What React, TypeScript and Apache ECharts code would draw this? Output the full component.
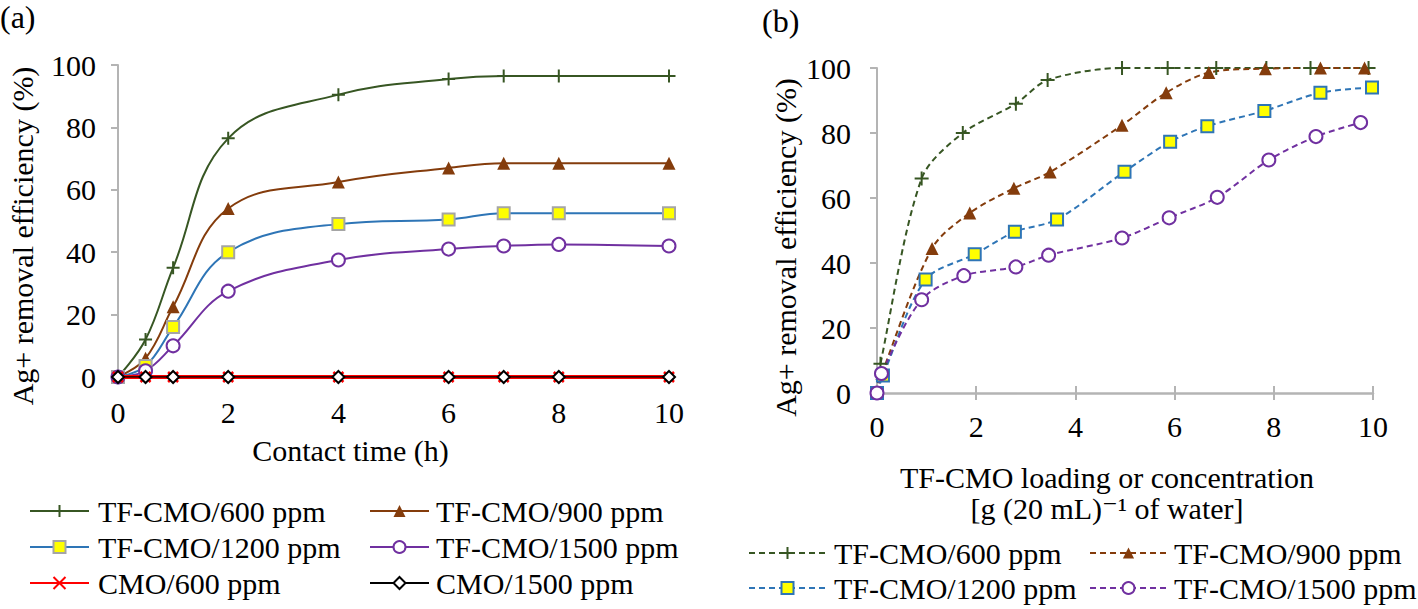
import React, { useEffect, useRef } from "react";
import * as echarts from "echarts";

const FONT = "'Liberation Serif', 'Times New Roman', Times, 'DejaVu Serif', serif";

// ---------- Panel (a): removal efficiency vs contact time ----------
const contactTimeH = [0, 0.5, 1, 2, 4, 6, 7, 8, 10];
const aTf600 = [0, 12, 35, 76.5, 90.5, 95.5, 96.5, 96.5, 96.5];
const aTf900 = [0, 6, 22.5, 54, 62.5, 67, 68.5, 68.5, 68.5];
const aTf1200 = [0, 3.5, 16, 40, 49, 50.5, 52.5, 52.5, 52.5];
const aTf1500 = [0, 2, 10, 27.5, 37.5, 41, 42, 42.5, 42];
const aCmo600 = [0, 0, 0, 0, 0, 0, 0, 0, 0];
const aCmo1500 = [0, 0, 0, 0, 0, 0, 0, 0, 0];

// ---------- Panel (b): removal efficiency vs TF-CMO loading ----------
const bTf600X = [0, 0.07, 0.9, 1.73, 2.8, 3.44, 4.94, 5.86, 6.84, 7.85, 8.74, 9.91];
const bTf600Y = [0, 9, 66, 80, 89, 96.3, 100, 100, 100, 100, 100, 100];
const bTf900X = [0, 0.1, 1.11, 1.87, 2.76, 3.49, 4.94, 5.83, 6.69, 7.83, 8.94, 9.83];
const bTf900Y = [0, 6, 44.5, 55.4, 63, 68, 82.4, 92.4, 98.6, 99.8, 100, 100];
const bTf1200X = [0, 0.12, 0.98, 1.97, 2.78, 3.63, 4.99, 5.91, 6.66, 7.81, 8.94, 9.98];
const bTf1200Y = [0, 5.4, 34.9, 42.7, 49.6, 53.4, 68.1, 77.3, 82.1, 86.8, 92.4, 94];
const bTf1500X = [0, 0.09, 0.9, 1.75, 2.8, 3.46, 4.94, 5.89, 6.86, 7.9, 8.85, 9.75];
const bTf1500Y = [0, 6, 28.7, 36.1, 38.8, 42.4, 47.7, 53.9, 60.2, 71.7, 78.9, 83.2];

const names = {
  tf600: "TF-CMO/600 ppm",
  tf900: "TF-CMO/900 ppm",
  tf1200: "TF-CMO/1200 ppm",
  tf1500: "TF-CMO/1500 ppm",
  cmo600: "CMO/600 ppm",
  cmo1500: "CMO/1500 ppm",
};

const GREEN = "#375623";
const BROWN = "#843C0C";
const BLUE = "#2E75B6";
const PURPLE = "#7030A0";
const RED = "#FF0000";
const GRAY = "#B4B4B4";
const PLUS = "path://M5,0L5,10M0,5L10,5";
const CROSS = "path://M0,0L10,10M0,10L10,0";
const DASH = [6, 4];

const zip = (xs: number[], ys: number[]) => xs.map((x, i) => [x, ys[i]]);

const textBase = { fontFamily: FONT, fontSize: 30, color: "#000" };

function legendItem(
  name: string,
  left: number,
  centerY: number,
  itemWidth: number,
  itemHeight: number,
  textPad: number,
  override?: any
) {
  return {
    show: true,
    left,
    top: centerY - 15,
    padding: 0,
    orient: "horizontal",
    itemWidth,
    itemHeight,
    selectedMode: false,
    data: [override ? { name, ...override } : name],
    textStyle: { ...textBase, lineHeight: 30, padding: [0, 0, 0, textPad] },
  };
}

export default function App() {
  const ref = useRef<HTMLDivElement>(null);

  useEffect(() => {
    if (!ref.current) return;
    const chart = echarts.init(ref.current, undefined, { renderer: "svg" });

    const lineA = (
      name: string,
      ys: number[],
      color: string,
      symbol: string,
      symbolSize: number,
      itemStyle: any,
      width = 2,
      z = 2
    ) => ({
      type: "line",
      name,
      xAxisIndex: 0,
      yAxisIndex: 0,
      data: zip(contactTimeH, ys),
      smooth: 0.4,
      symbol,
      symbolSize,
      showAllSymbol: true,
      lineStyle: { color, width },
      itemStyle,
      z,
    });

    const lineB = (
      name: string,
      xs: number[],
      ys: number[],
      color: string,
      symbol: string,
      symbolSize: number,
      itemStyle: any
    ) => ({
      type: "line",
      name,
      xAxisIndex: 1,
      yAxisIndex: 1,
      data: zip(xs, ys),
      smooth: 0.3,
      symbol,
      symbolSize,
      showAllSymbol: true,
      lineStyle: { color, width: 2, type: DASH },
      itemStyle,
    });

    const option: any = {
      animation: false,
      backgroundColor: "#fff",
      textStyle: { fontFamily: FONT },
      grid: [
        { left: 118, top: 65, width: 551, height: 312 },
        { left: 877, top: 68, width: 496, height: 325 },
      ],
      xAxis: [
        {
          gridIndex: 0,
          type: "value",
          min: 0,
          max: 10,
          interval: 2,
          position: "bottom",
          axisLine: { show: true, onZero: false, lineStyle: { color: GRAY, width: 2 } },
          axisTick: { show: false },
          splitLine: { show: false },
          axisLabel: { ...textBase, margin: 20 },
          name: "Contact time (h)",
          nameLocation: "middle",
          nameGap: 58,
          nameTextStyle: { ...textBase, padding: [0, 86, 0, 0] },
        },
        {
          gridIndex: 1,
          type: "value",
          min: 0,
          max: 10,
          interval: 2,
          position: "bottom",
          axisLine: { show: true, onZero: false, lineStyle: { color: GRAY, width: 2.5 } },
          axisTick: { show: true, length: 7, lineStyle: { color: GRAY, width: 2 } },
          splitLine: { show: false },
          axisLabel: { ...textBase, margin: 18 },
          name: "TF-CMO loading or concentration\n[g (20 mL)\u207B\u00B9 of water]",
          nameLocation: "middle",
          nameGap: 69,
          nameTextStyle: { ...textBase, lineHeight: 31, padding: [0, 36, 0, 0] },
        },
        {
          gridIndex: 1,
          type: "value",
          min: 0,
          max: 10,
          interval: 2,
          position: "bottom",
          axisLine: { show: false },
          axisTick: { show: true, inside: true, length: 7, lineStyle: { color: GRAY, width: 2 } },
          axisLabel: { show: false },
          splitLine: { show: false },
        },
      ],
      yAxis: [
        {
          gridIndex: 0,
          type: "value",
          min: 0,
          max: 100,
          interval: 20,
          axisLine: { show: true, lineStyle: { color: GRAY, width: 2 } },
          axisTick: { show: true, length: 7, lineStyle: { color: GRAY, width: 2 } },
          splitLine: { show: false },
          axisLabel: { ...textBase, margin: 22 },
          name: "Ag+ removal efficiency (%)",
          nameLocation: "middle",
          nameGap: 81,
          nameTextStyle: { ...textBase, padding: [0, 30, 0, 0] },
        },
        {
          gridIndex: 1,
          type: "value",
          min: 0,
          max: 100,
          interval: 20,
          axisLine: { show: true, lineStyle: { color: GRAY, width: 2 } },
          axisTick: { show: true, length: 7, lineStyle: { color: GRAY, width: 2 } },
          splitLine: { show: false },
          axisLabel: { ...textBase, margin: 26 },
          name: "Ag+ removal efficiency (%)",
          nameLocation: "middle",
          nameGap: 77,
          nameTextStyle: { ...textBase, padding: [0, 34, 0, 0] },
        },
      ],
      legend: [
        legendItem(names.tf600, 29, 511, 59, 15, 4),
        legendItem(names.tf900, 369, 511, 59, 15, 2),
        legendItem(names.tf1200, 29, 547, 59, 15, 4),
        legendItem(names.tf1500, 369, 547, 59, 15, 2),
        legendItem(names.cmo600, 29, 583, 59, 15, 4),
        legendItem(names.cmo1500, 369, 583, 59, 15, 2),
        legendItem(names.tf600, 748, 553, 77, 15, 3, { lineStyle: { type: DASH } }),
        legendItem(names.tf900, 1089, 553, 77, 14, 2, { lineStyle: { type: DASH } }),
        legendItem(names.tf1200, 748, 588, 77, 15, 3, {
          lineStyle: { type: DASH },
          itemStyle: { borderColor: BLUE },
        }),
        legendItem(names.tf1500, 1089, 588, 77, 15, 2, { lineStyle: { type: DASH } }),
      ],
      graphic: [
        { type: "text", left: 0, top: 1, style: { text: "(a)", font: "32px " + FONT, fill: "#000" } },
        { type: "text", left: 762, top: 5, style: { text: "(b)", font: "32px " + FONT, fill: "#000" } },
      ],
      series: [
        lineA(names.tf600, aTf600, GREEN, PLUS, 13, { color: GREEN, borderColor: GREEN, borderWidth: 2 }),
        lineA(names.tf900, aTf900, BROWN, "triangle", 13, { color: BROWN, borderWidth: 0 }),
        lineA(names.tf1200, aTf1200, BLUE, "rect", 12, { color: "#FFFF00", borderColor: "#A5A5A5", borderWidth: 2 }),
        lineA(names.tf1500, aTf1500, PURPLE, "circle", 13, { color: "#fff", borderColor: PURPLE, borderWidth: 2 }),
        lineA(names.cmo600, aCmo600, RED, CROSS, 10, { color: RED, borderColor: RED, borderWidth: 2.5 }, 4, 3),
        lineA(names.cmo1500, aCmo1500, "#000", "diamond", 12, { color: "#fff", borderColor: "#000", borderWidth: 2 }, 1.5, 4),
        lineB(names.tf600, bTf600X, bTf600Y, GREEN, PLUS, 14, { color: GREEN, borderColor: GREEN, borderWidth: 2 }),
        lineB(names.tf900, bTf900X, bTf900Y, BROWN, "triangle", 13, { color: BROWN, borderWidth: 0 }),
        lineB(names.tf1200, bTf1200X, bTf1200Y, BLUE, "rect", 12, { color: "#FFFF00", borderColor: BLUE, borderWidth: 2 }),
        lineB(names.tf1500, bTf1500X, bTf1500Y, PURPLE, "circle", 13, { color: "#fff", borderColor: PURPLE, borderWidth: 2 }),
      ],
    };

    chart.setOption(option);
    return () => chart.dispose();
  }, []);

  return (
    <div
      ref={ref}
      style={{ position: "absolute", left: 0, top: 0, width: 1418, height: 609, background: "#fff" }}
    />
  );
}
